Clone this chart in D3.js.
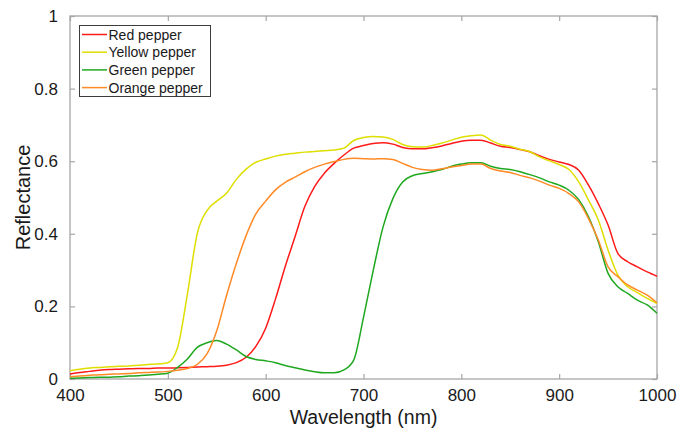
<!DOCTYPE html>
<html>
<head>
<meta charset="utf-8">
<script src="https://cdn.jsdelivr.net/npm/d3@7"></script>
<style>
  body { margin: 0; background: white; }
  text { font-family: "Liberation Sans", Arial, sans-serif; }
</style>
</head>
<body>
<div id="viz_area"></div>
<script>
var width = 680
var height = 432

var margin = { top: 16, right: 23, bottom: 53, left: 70 }

// wavelength in nm, every 10 nm
var wavelength = d3.range(400, 1001, 10)

var red = [0.014, 0.018, 0.021, 0.024, 0.026, 0.027, 0.028, 0.029, 0.029, 0.030,
  0.030, 0.031, 0.032, 0.033, 0.034, 0.035, 0.038, 0.045, 0.060, 0.090,
  0.140, 0.220, 0.310, 0.392, 0.475, 0.530, 0.567, 0.594, 0.617, 0.636,
  0.643, 0.649, 0.651, 0.647, 0.638, 0.634, 0.634, 0.637, 0.642, 0.649,
  0.655, 0.658, 0.658, 0.650, 0.641, 0.638, 0.632, 0.626, 0.615, 0.605,
  0.598, 0.591, 0.575, 0.534, 0.483, 0.424, 0.346, 0.323, 0.309, 0.295,
  0.283]

var yellow = [0.023, 0.027, 0.030, 0.032, 0.034, 0.035, 0.036, 0.038, 0.040, 0.041,
  0.045, 0.087, 0.234, 0.400, 0.464, 0.490, 0.512, 0.550, 0.578, 0.597,
  0.606, 0.614, 0.619, 0.622, 0.625, 0.627, 0.629, 0.631, 0.636, 0.657,
  0.665, 0.668, 0.667, 0.660, 0.646, 0.640, 0.639, 0.643, 0.650, 0.658,
  0.666, 0.670, 0.672, 0.658, 0.646, 0.641, 0.633, 0.626, 0.612, 0.601,
  0.591, 0.577, 0.543, 0.493, 0.438, 0.355, 0.286, 0.254, 0.238, 0.222,
  0.208]

var green = [0.002, 0.003, 0.004, 0.005, 0.005, 0.006, 0.008, 0.009, 0.011, 0.013,
  0.016, 0.032, 0.055, 0.087, 0.100, 0.106, 0.096, 0.080, 0.062, 0.054,
  0.050, 0.045, 0.037, 0.031, 0.025, 0.020, 0.017, 0.017, 0.025, 0.052,
  0.170, 0.300, 0.419, 0.497, 0.543, 0.560, 0.566, 0.571, 0.577, 0.586,
  0.592, 0.596, 0.596, 0.586, 0.580, 0.577, 0.571, 0.563, 0.554, 0.543,
  0.534, 0.520, 0.494, 0.447, 0.378, 0.291, 0.254, 0.236, 0.217, 0.204,
  0.181]

var orange = [0.006, 0.008, 0.010, 0.012, 0.013, 0.014, 0.015, 0.017, 0.018, 0.019,
  0.021, 0.024, 0.029, 0.040, 0.069, 0.133, 0.230, 0.318, 0.395, 0.455,
  0.490, 0.521, 0.542, 0.556, 0.571, 0.583, 0.592, 0.599, 0.605, 0.608,
  0.607, 0.606, 0.607, 0.605, 0.594, 0.583, 0.577, 0.575, 0.579, 0.584,
  0.588, 0.592, 0.592, 0.580, 0.573, 0.569, 0.561, 0.554, 0.545, 0.534,
  0.525, 0.511, 0.488, 0.442, 0.383, 0.309, 0.282, 0.259, 0.245, 0.231,
  0.210]

var names = ["Red pepper", "Yellow pepper", "Green pepper", "Orange pepper"]
var colors = ["#ff1a1a", "#dede00", "#1fa81f", "#ff8a26"]
var seriesValues = [red, yellow, green, orange]

var xTicks = [400, 500, 600, 700, 800, 900, 1000]
var yTicks = [0, 0.2, 0.4, 0.6, 0.8, 1]

var svg = d3.select("#viz_area")
  .append("svg")
  .attr("width", width)
  .attr("height", height)
  .style("background-color", "white")

var scX = d3.scaleLinear()
  .domain([400, 1000])
  .range([margin.left, width - margin.right])

var scY = d3.scaleLinear()
  .domain([0, 1])
  .range([height - margin.bottom, margin.top])

var axisColor = "#a6a6a6"

// box
svg.append("rect")
  .attr("x", margin.left)
  .attr("y", margin.top)
  .attr("width", width - margin.left - margin.right)
  .attr("height", height - margin.top - margin.bottom)
  .attr("fill", "none")
  .attr("stroke", axisColor)
  .attr("stroke-width", 1.3)

function styleAxis(g) {
  g.select(".domain").remove()
  g.selectAll(".tick line").attr("stroke", axisColor).attr("stroke-width", 1.2)
  g.selectAll(".tick text").attr("fill", "#1a1a1a").style("font-size", "17px")
}

// bottom axis, inside ticks
svg.append("g")
  .attr("transform", `translate(0,${height - margin.bottom})`)
  .call(d3.axisBottom(scX).tickValues(xTicks).tickSizeInner(-5).tickSizeOuter(0).tickPadding(10).tickFormat(d3.format("d")))
  .call(styleAxis)

// top ticks
svg.append("g")
  .attr("transform", `translate(0,${margin.top})`)
  .call(d3.axisTop(scX).tickValues(xTicks).tickSizeInner(-5).tickSizeOuter(0).tickFormat(""))
  .call(styleAxis)

// left axis
svg.append("g")
  .attr("transform", `translate(${margin.left},0)`)
  .call(d3.axisLeft(scY).tickValues(yTicks).tickSizeInner(-5).tickSizeOuter(0).tickPadding(12).tickFormat(d => d == 0 || d == 1 ? d : d3.format(".1f")(d)))
  .call(styleAxis)

// right ticks
svg.append("g")
  .attr("transform", `translate(${width - margin.right},0)`)
  .call(d3.axisRight(scY).tickValues(yTicks).tickSizeInner(-5).tickSizeOuter(0).tickFormat(""))
  .call(styleAxis)

// lines
var makeLine = d3.line()
  .curve(d3.curveMonotoneX)
  .x((d, i) => scX(wavelength[i]))
  .y(d => scY(d))

svg.append("g")
  .selectAll("path")
  .data(seriesValues)
  .enter()
  .append("path")
  .attr("fill", "none")
  .attr("stroke", (d, i) => colors[i])
  .attr("stroke-width", 1.5)
  .attr("d", makeLine)

// axis labels
svg.append("text")
  .attr("x", (margin.left + width - margin.right) / 2)
  .attr("y", 424)
  .attr("text-anchor", "middle")
  .style("font-size", "19.5px")
  .attr("fill", "#1a1a1a")
  .text("Wavelength (nm)")

svg.append("text")
  .attr("transform", `translate(30,${(margin.top + height - margin.bottom) / 2}) rotate(-90)`)
  .attr("text-anchor", "middle")
  .style("font-size", "20px")
  .attr("fill", "#1a1a1a")
  .text("Reflectance")

// legend
var legend = svg.append("g").attr("id", "legend")

legend.append("rect")
  .attr("x", 79.5)
  .attr("y", 25.5)
  .attr("width", 131)
  .attr("height", 71)
  .attr("fill", "white")
  .attr("stroke", "#3c3c3c")
  .attr("stroke-width", 1)

legend.selectAll("line")
  .data(names)
  .enter()
  .append("line")
  .attr("x1", 82)
  .attr("x2", 107)
  .attr("y1", (d, i) => 34.5 + i * 17.7)
  .attr("y2", (d, i) => 34.5 + i * 17.7)
  .attr("stroke", (d, i) => colors[i])
  .attr("stroke-width", 1.5)

legend.selectAll("text")
  .data(names)
  .enter()
  .append("text")
  .attr("x", 108.5)
  .attr("y", (d, i) => 34.5 + i * 17.7)
  .attr("dy", "0.36em")
  .style("font-size", "14px")
  .attr("fill", "#1a1a1a")
  .text(d => d)
</script>
</body>
</html>
